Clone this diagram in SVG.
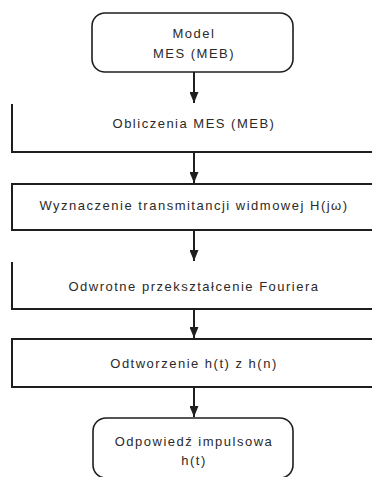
<svg xmlns="http://www.w3.org/2000/svg" width="372" height="477" viewBox="0 0 372 477">
  <style>
    .frame { fill: none; stroke: #1e1e1e; stroke-width: 2; }
    .term { fill: #ffffff; stroke: #1e1e1e; stroke-width: 1.6; }
    .link { fill: none; stroke: #1e1e1e; stroke-width: 2; marker-end: url(#arrow); }
    .label { font-family: "Liberation Sans", Arial, sans-serif; font-size: 13px; letter-spacing: 1.5px; fill: #2a2a2a; text-anchor: middle; }
  </style>
  <defs>
    <!-- solid triangular head, pointing along the line direction -->
    <marker id="arrow" viewBox="0 0 11 9" refX="11" refY="4.5" markerWidth="11" markerHeight="9" markerUnits="userSpaceOnUse" orient="auto">
      <path d="M0,0 L11,4.5 L0,9 Z" fill="#1e1e1e"/>
    </marker>
  </defs>

  <rect width="372" height="477" fill="#ffffff"/>

  <!-- connectors -->
  <g id="connectors">
    <line class="link" x1="194" y1="72" x2="194" y2="103"/>
    <line class="link" x1="194" y1="152" x2="194" y2="183"/>
    <line class="link" x1="194" y1="230" x2="194" y2="261"/>
    <line class="link" x1="194" y1="309" x2="194" y2="338"/>
    <line class="link" x1="194" y1="387" x2="194" y2="417"/>
  </g>

  <!-- start terminator -->
  <g id="model">
    <rect class="term" x="92" y="13" width="201" height="59" rx="13" ry="13"/>
    <text class="label" x="194" y="38">Model</text>
    <text class="label" x="194" y="58">MES (MEB)</text>
  </g>

  <!-- process steps -->
  <g id="obliczenia">
    <polyline class="frame" points="12,104 12,152 380,152"/>
    <text class="label" x="194" y="128">Obliczenia MES (MEB)</text>
  </g>

  <g id="transmitancja">
    <rect class="frame" x="12" y="184" width="370" height="46"/>
    <text class="label" x="194" y="210">Wyznaczenie transmitancji widmowej H(jω)</text>
  </g>

  <g id="fourier">
    <polyline class="frame" points="12,262 12,309 380,309"/>
    <text class="label" x="194" y="291">Odwrotne przekształcenie Fouriera</text>
  </g>

  <g id="odtworzenie">
    <rect class="frame" x="12" y="339" width="370" height="48"/>
    <text class="label" x="194" y="368">Odtworzenie h(t) z h(n)</text>
  </g>

  <!-- end terminator -->
  <g id="odpowiedz">
    <rect class="term" x="93" y="418" width="200" height="60" rx="13" ry="13"/>
    <text class="label" x="194" y="446">Odpowiedź impulsowa</text>
    <text class="label" x="194" y="465">h(t)</text>
  </g>
</svg>
